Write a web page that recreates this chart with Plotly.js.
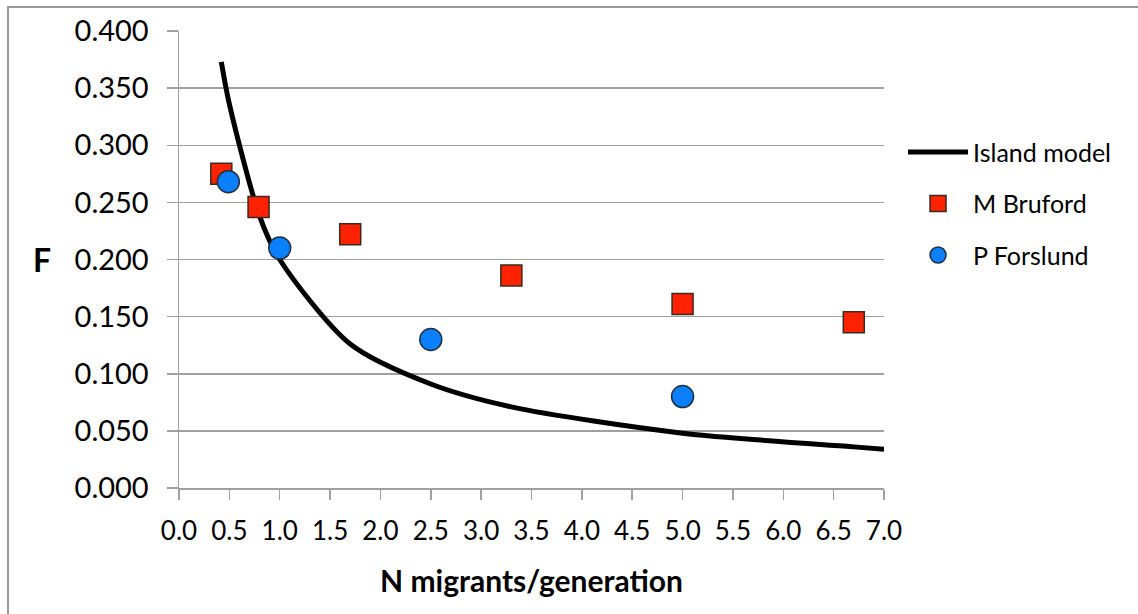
<!DOCTYPE html>
<html>
<head>
<meta charset="utf-8">
<script src="https://cdn.plot.ly/plotly-3.0.1.min.js"></script>
<style>
  html, body { margin: 0; padding: 0; background: #fff; }
  #wrap { position: relative; width: 1138px; height: 614px; overflow: hidden; }
  #chart { position: absolute; left: 0; top: 0; width: 1138px; height: 614px; }
  #frame { position: absolute; left: 7px; top: 6px; width: 1200px; height: 700px;
           border-left: 2px solid #9a9a9a; border-top: 2px solid #9a9a9a; pointer-events: none; }
</style>
</head>
<body>
<div id="wrap">
  <div id="chart"></div>
  <div id="frame"></div>
</div>
<script>
// Island model curve
const islandX = [0.42, 0.5, 0.8, 1.0, 1.7, 2.5, 3.3, 5.0, 6.7, 7.0];
const islandY = [0.373, 0.336, 0.238, 0.200, 0.126, 0.091, 0.071, 0.048, 0.036, 0.034];

// M Bruford
const brufordX = [0.42, 0.79, 1.70, 3.30, 5.00, 6.70];
const brufordY = [0.275, 0.246, 0.222, 0.186, 0.161, 0.145];

// P Forslund
const forslundX = [0.49, 1.00, 2.50, 5.00];
const forslundY = [0.268, 0.210, 0.130, 0.080];

// Axis titles
const xTitle = 'N migrants/generation';
const yTitle = 'F';

const FONT = 'Lato, "Open Sans", sans-serif';
const GRID = '#a0a0a0';

const traces = [
  {
    x: islandX, y: islandY, name: 'Island model', type: 'scatter', mode: 'lines',
    line: { color: '#000000', width: 5, shape: 'spline', smoothing: 0.8 },
    legendgroup: 'a'
  },
  {
    x: brufordX, y: brufordY, name: 'M Bruford', type: 'scatter', mode: 'markers',
    marker: { symbol: 'square', size: 21, color: '#ff2200', line: { color: '#3a2a20', width: 1.5 } },
    legendgroup: 'b'
  },
  {
    x: forslundX, y: forslundY, name: 'P Forslund', type: 'scatter', mode: 'markers',
    marker: { symbol: 'circle', size: 22, color: '#0a80ff', line: { color: '#23313d', width: 1.5 } },
    legendgroup: 'c'
  }
];

const layout = {
  width: 1138, height: 614,
  margin: { l: 179, r: 254, t: 31, b: 126, pad: 0 },
  paper_bgcolor: '#ffffff', plot_bgcolor: '#ffffff',
  font: { family: FONT, color: '#000000' },
  showlegend: true,
  legend: {
    x: 1.027, xanchor: 'left', y: 0.785, yanchor: 'top',
    font: { family: FONT, size: 25, color: '#000000' },
    traceorder: 'grouped', tracegroupgap: 16,
    itemwidth: 60, bgcolor: 'rgba(0,0,0,0)'
  },
  xaxis: {
    range: [0, 7], tick0: 0, dtick: 0.5, tickformat: '.1f',
    ticks: 'outside', ticklen: 10, tickwidth: 1.5, tickcolor: GRID,
    showline: true, linecolor: GRID, linewidth: 1.5,
    showgrid: false, zeroline: false,
    tickfont: { family: FONT, size: 26, color: '#000000' },
    ticklabelstandoff: 9,
    title: { text: '<b>' + xTitle + '</b>', font: { family: FONT, size: 30, color: '#000000' }, standoff: 26 },
    fixedrange: true
  },
  yaxis: {
    range: [0, 0.4], tick0: 0, dtick: 0.05, tickformat: '.3f',
    ticks: 'outside', ticklen: 11, tickwidth: 1.5, tickcolor: GRID,
    showline: true, linecolor: GRID, linewidth: 1.5,
    showgrid: true, gridcolor: GRID, gridwidth: 1.5, zeroline: false,
    tickfont: { family: FONT, size: 29, color: '#000000' },
    ticklabelstandoff: 12,
    fixedrange: true
  },
  annotations: [
    {
      text: '<b>' + yTitle + '</b>', xref: 'paper', yref: 'paper',
      x: -0.194, y: 0.5, xanchor: 'center', yanchor: 'middle', showarrow: false,
      font: { family: FONT, size: 32, color: '#000000' }
    }
  ]
};

Plotly.newPlot('chart', traces, layout, { displayModeBar: false, staticPlot: true });
</script>
</body>
</html>
